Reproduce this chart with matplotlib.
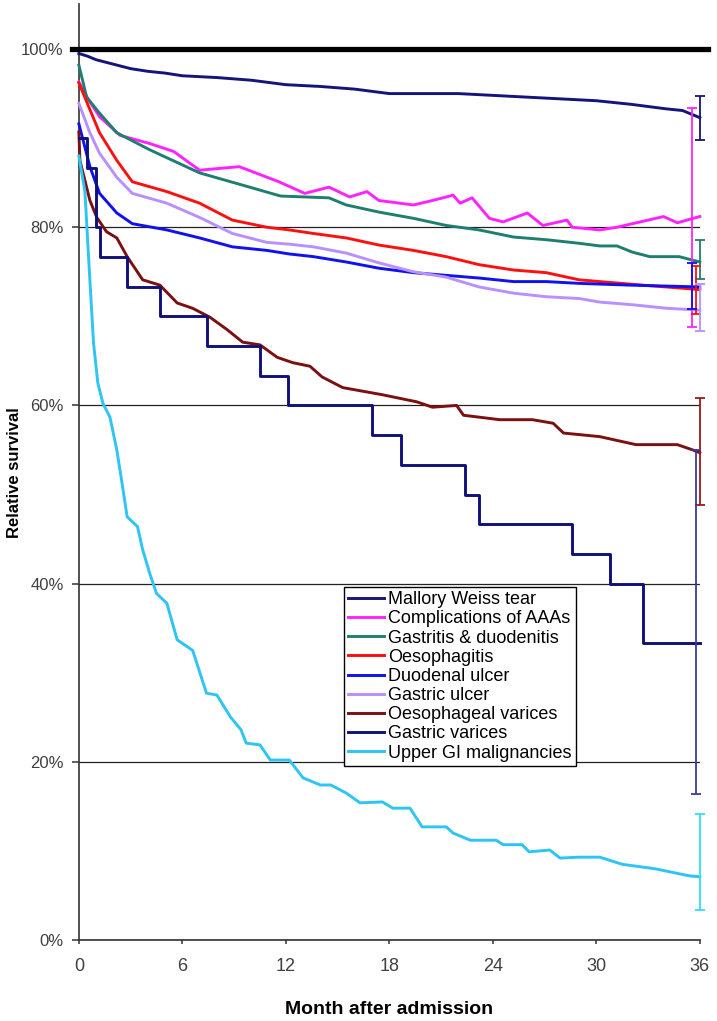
import matplotlib
matplotlib.use('Agg')
import matplotlib.pyplot as plt
from matplotlib.ticker import FuncFormatter

plt.rcParams['font.family'] = ['Liberation Sans', 'DejaVu Sans']

# Relative survival (%) by month after admission
mw_t = [0, 0.5, 1, 2, 3, 4, 5, 6, 8, 10, 12, 14, 16, 18, 20, 22, 24, 26, 28, 30, 32, 34, 35, 36]
mw_s = [99.5, 99.2, 98.8, 98.3, 97.8, 97.5, 97.3, 97.0, 96.8, 96.5, 96.0, 95.8, 95.5, 95.0,
        95.0, 95.0, 94.8, 94.6, 94.4, 94.2, 93.8, 93.3, 93.1, 92.3]

aaa_t = [0, 0.5, 1.2, 2.4, 4.1, 5.5, 7.0, 9.3, 11.6, 13.1, 14.5, 15.7, 16.7, 17.4, 19.4, 20.5,
         21.7, 22.1, 22.8, 23.8, 24.6, 26.0, 26.9, 28.3, 28.6, 30.2, 31.2, 33.9, 34.7, 36]
aaa_s = [96.3, 94.5, 92.4, 90.3, 89.4, 88.5, 86.4, 86.8, 85.1, 83.8, 84.5, 83.4, 84.0, 83.0,
         82.5, 83.0, 83.6, 82.7, 83.3, 81.0, 80.6, 81.6, 80.2, 80.8, 80.0, 79.7, 80.0, 81.2,
         80.5, 81.2]

gd_t = [0, 0.45, 1.2, 2.2, 4.1, 7.0, 9.9, 11.7, 14.5, 15.5, 17.4, 19.4, 21.3, 23.2, 25.2,
        27.1, 29.0, 30.2, 31.2, 32.1, 33.1, 34.8, 36]
gd_s = [98.2, 94.6, 92.8, 90.6, 88.7, 86.1, 84.5, 83.5, 83.3, 82.5, 81.7, 81.0, 80.2, 79.7,
        78.9, 78.6, 78.2, 77.9, 77.9, 77.2, 76.7, 76.7, 76.1]

oe_t = [0, 0.64, 1.2, 2.2, 3.1, 5.1, 7.0, 8.9, 10.9, 12.2, 13.6, 15.5, 17.4, 19.4, 21.3, 23.2,
        25.2, 27.1, 29.0, 30.2, 32.7, 34.7, 36]
oe_s = [96.2, 93.2, 90.6, 87.5, 85.1, 84.0, 82.7, 80.8, 80.0, 79.7, 79.3, 78.8, 78.0, 77.4,
        76.7, 75.8, 75.2, 74.9, 74.1, 73.9, 73.5, 73.2, 73.0]

du_t = [0, 0.64, 1.2, 2.2, 3.1, 5.1, 7.0, 8.9, 10.9, 12.2, 13.6, 15.5, 17.4, 19.4, 21.3, 23.2,
        25.2, 27.1, 29.0, 32.0, 36]
du_s = [91.6, 86.8, 83.8, 81.6, 80.4, 79.7, 78.8, 77.8, 77.4, 77.0, 76.7, 76.1, 75.4, 74.9,
        74.6, 74.3, 73.9, 73.9, 73.7, 73.5, 73.3]

gu_t = [0, 0.64, 1.2, 2.2, 3.1, 5.1, 7.0, 8.9, 10.9, 12.2, 13.6, 15.5, 17.4, 19.4, 21.3, 23.2,
        25.2, 27.1, 29.0, 30.2, 32.1, 34.1, 36]
gu_s = [93.9, 90.6, 88.3, 85.6, 83.8, 82.7, 81.1, 79.3, 78.3, 78.1, 77.8, 77.1, 76.0, 75.0,
        74.4, 73.3, 72.6, 72.2, 72.0, 71.6, 71.3, 70.9, 70.7]

ov_t = [0, 0.06, 0.64, 1.04, 1.6, 2.2, 2.8, 3.7, 4.7, 5.7, 6.6, 7.6, 8.6, 9.5, 10.5, 11.5,
        12.4, 13.4, 14.1, 15.3, 17.6, 19.6, 20.5, 21.9, 22.3, 24.4, 26.3, 27.5, 28.1, 30.2,
        32.3, 34.7, 35.6, 36]
ov_s = [90.7, 87.5, 83.0, 81.1, 79.5, 78.8, 76.7, 74.1, 73.5, 71.5, 70.9, 69.9, 68.5, 67.1,
        66.8, 65.4, 64.8, 64.4, 63.2, 62.0, 61.2, 60.4, 59.8, 60.0, 58.9, 58.4, 58.4, 58.0,
        56.9, 56.5, 55.6, 55.6, 55.0, 54.7]

gv_t = [0, 0.5, 1.0, 1.2, 2.8, 4.7, 7.4, 10.5, 12.1, 17.0, 18.7, 22.4, 23.2, 28.6, 30.8, 32.7, 36]
gv_s = [90.0, 86.7, 80.0, 76.7, 73.3, 70.0, 66.7, 63.3, 60.0, 56.7, 53.3, 50.0, 46.7, 43.3,
        40.0, 33.3, 33.3]

ug_t = [0, 0.35, 0.64, 0.85, 1.1, 1.4, 1.8, 2.2, 2.5, 2.8, 3.4, 3.7, 4.1, 4.5, 5.1, 5.7, 6.6,
        7.4, 8.0, 8.8, 9.4, 9.7, 10.5, 11.1, 12.2, 13.0, 14.0, 14.6, 15.5, 16.3, 17.6, 18.2,
        19.2, 19.9, 21.3, 21.7, 22.7, 24.2, 24.6, 25.7, 26.1, 27.3, 27.9, 29.0, 30.2, 31.5,
        33.4, 35.4, 36]
ug_s = [88.0, 84.0, 74.0, 67.0, 62.5, 60.2, 58.7, 55.0, 51.3, 47.5, 46.4, 43.8, 41.2, 38.9,
        37.8, 33.7, 32.5, 27.7, 27.5, 25.0, 23.6, 22.1, 21.9, 20.2, 20.2, 18.2, 17.4, 17.4,
        16.5, 15.4, 15.5, 14.8, 14.8, 12.7, 12.7, 12.0, 11.2, 11.2, 10.7, 10.7, 9.9, 10.1,
        9.2, 9.3, 9.3, 8.5, 8.0, 7.2, 7.1]

labels = ['Mallory Weiss tear', 'Complications of AAAs', 'Gastritis & duodenitis',
          'Oesophagitis', 'Duodenal ulcer', 'Gastric ulcer', 'Oesophageal varices',
          'Gastric varices', 'Upper GI malignancies']

# 95% confidence interval at 36 months (low, high) and where the bar sits
ci_low = [89.8, 68.8, 74.2, 70.3, 70.8, 68.3, 48.8, 16.4, 3.4]
ci_high = [94.7, 93.4, 78.6, 75.6, 76.0, 73.6, 60.8, 55.0, 14.2]
ci_x = [36.0, 35.55, 36.0, 35.8, 35.55, 36.0, 36.0, 35.8, 36.0]

series = [(mw_t, mw_s), (aaa_t, aaa_s), (gd_t, gd_s), (oe_t, oe_s), (du_t, du_s),
          (gu_t, gu_s), (ov_t, ov_s), (gv_t, gv_s), (ug_t, ug_s)]
colors = ['#14147a', '#ff22ff', '#1f7f6e', '#ff1010', '#1010f0', '#b890ff', '#7a1010',
          '#10107a', '#2ec4f4']
bar_colors = ['#14147a', '#ff22ff', '#1f7f6e', '#ff1010', '#1010f0', '#b890ff', '#9a1a1a',
              '#3a3a9a', '#30dcf8']

fig = plt.figure(figsize=(7.17, 10.21), dpi=100)
ax = fig.add_axes([0.110, 0.0793, 0.866, 0.9163])

# thick 100% reference line
ax.plot([-0.4, 36.5], [100, 100], color='black', lw=3.8, clip_on=False, zorder=3)

lines = []
for i, (t, s) in enumerate(series):
    ds = 'steps-post' if i == 7 else 'default'
    ln, = ax.plot(t, s, color=colors[i], lw=2.1, drawstyle=ds, label=labels[i],
                  clip_on=False, zorder=4)
    lines.append(ln)

for i in range(len(labels)):
    end = series[i][1][-1]
    ax.errorbar([ci_x[i]], [end], yerr=[[end - ci_low[i]], [ci_high[i] - end]], fmt='none',
                ecolor=bar_colors[i], elinewidth=1.3, capsize=3.5, capthick=1.3,
                clip_on=False, zorder=5)

ax.set_xlim(0, 36)
ax.set_ylim(0, 105)
ax.set_xticks(range(0, 37, 6))
ax.set_yticks(range(0, 101, 20))
ax.yaxis.set_major_formatter(FuncFormatter(lambda v, p: f'{int(v)}%'))
ax.grid(axis='y', color='#222222', lw=0.9)

for side in ['top', 'right']:
    ax.spines[side].set_visible(False)
for side in ['left', 'bottom']:
    ax.spines[side].set_color('#333333')
    ax.spines[side].set_linewidth(1.2)

ax.tick_params(axis='y', direction='out', length=5, width=1.1, pad=6, labelsize=12,
               labelcolor='#404040', color='#333333')
ax.tick_params(axis='x', direction='out', length=3, width=1.1, pad=10, labelsize=13,
               labelcolor='#404040', color='#333333')

ax.set_xlabel('Month after admission', fontsize=14, fontweight='bold')
ax.xaxis.set_label_coords(0.50, -0.065)
ax.set_ylabel('Relative survival', fontsize=12, fontweight='bold')
ax.yaxis.set_label_coords(-0.091, 0.5)

leg = ax.legend(handles=lines, loc='lower left', bbox_to_anchor=(0.4267, 0.186),
                borderaxespad=0, fontsize=13, labelspacing=0.12, handlelength=2.0,
                handletextpad=0.2, borderpad=0.25, fancybox=False, framealpha=1,
                edgecolor='black')
leg.get_frame().set_linewidth(1.0)
leg.set_zorder(6)

plt.savefig('out.png', dpi=100)
